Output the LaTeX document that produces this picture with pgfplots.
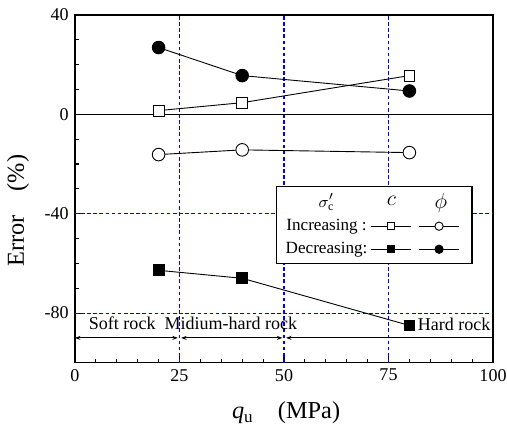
\documentclass[border=0pt]{standalone}
\usepackage{fontspec}
\setmainfont{Liberation Serif}
\usepackage{pgfplots}
\pgfplotsset{compat=1.18}
\usetikzlibrary{arrows.meta,calc}
\newdimen\px \px=0.555pt
\begin{document}
\begin{tikzpicture}
\begin{axis}[
  scale only axis, width=232pt, height=193pt,
  xmin=0, xmax=100, ymin=-100, ymax=40,
  xtick={0,25,50,75,100}, ytick={-80,-40,0,40},
  minor x tick num=4, minor y tick num=3,
  tick pos=left, tick align=inside,
  major tick length=3.9pt, minor tick length=2.2pt,
  axis line style={line width=0.7pt},
  tick style={draw=black, line width=0.6pt},
  tick label style={font=\fontsize{10}{12}\selectfont},
  /pgf/number format/assume math mode=true,
  xlabel={\textit{q}\textsubscript{u}\quad(MPa)},
  ylabel={Error\quad(\%)},
  label style={font=\fontsize{13.5}{15}\selectfont},
  xlabel style={at={(axis description cs:0.505,-0.144)}, anchor=center},
  ylabel style={at={(axis description cs:-0.136,0.437)}, anchor=center},
  legend columns=3,
  legend cell align=center,
  legend image code/.code={\draw[mark repeat=2,mark phase=2,#1] plot coordinates {(0pt,0pt) (11pt,0pt) (22pt,0pt)};},
  legend style={at={(rel axis cs:0.481,0.509)}, anchor=north west,
    draw=black, line width=0.7pt, fill=white,
    font=\fontsize{9.5}{11}\selectfont, row sep=1pt,
    inner xsep=3pt, inner ysep=2pt},
  guide/.style={color=blue, line width=0.6pt, dash pattern=on 2pt off 1.4pt, forget plot},
]
% dashed blue guide lines
\addplot[guide] coordinates {(25,-100) (25,40)};
\addplot[guide] coordinates {(50,-100) (50,40)};
\addplot[guide] coordinates {(75,-100) (75,40)};
\addplot[guide] coordinates {(0,-40) (100,-40)};
\addplot[guide] coordinates {(0,-80) (100,-80)};

\addplot[black, line width=0.6pt, forget plot] coordinates {(0,0) (100,0)};

% Increasing c
\addplot[black, line width=0.5pt, mark=square*, mark size=3pt, mark options={fill=white}, forget plot]
  coordinates {(20,1.5) (40,4.7) (80,15.6)};
% Increasing phi
\addplot[black, line width=0.5pt, mark=*, mark size=3.5pt, mark options={fill=white}, forget plot]
  coordinates {(20,-16.2) (40,-14.3) (80,-15.4)};
% Decreasing c
\addplot[black, line width=0.5pt, mark=square*, mark size=3pt, forget plot]
  coordinates {(20,-62.8) (40,-66) (80,-85)};
% Decreasing phi
\addplot[black, line width=0.5pt, mark=*, mark size=3.5pt, forget plot]
  coordinates {(20,26.9) (40,15.6) (80,9.4)};

\draw[line width=0.5pt, {Stealth[length=3pt,width=2.2pt]}-{Stealth[length=3pt,width=2.2pt]}] (axis cs:0,-90) -- (axis cs:24.6,-90);
\draw[line width=0.5pt, {Stealth[length=3pt,width=2.2pt]}-{Stealth[length=3pt,width=2.2pt]}] (axis cs:25.4,-90) -- (axis cs:49.6,-90);
\draw[line width=0.5pt, {Stealth[length=3pt,width=2.2pt]}-] (axis cs:50.5,-90) -- (axis cs:100,-90);
\node[font=\fontsize{10}{12}\selectfont] at (axis cs:11.3,-84) {Soft rock};
\node[font=\fontsize{10}{12}\selectfont] at (axis cs:37.3,-84) {Midium-hard rock};
\node[font=\fontsize{10}{12}\selectfont] at (axis cs:90.7,-84.7) {Hard rock};

\coordinate (sw) at (rel axis cs:0,0);
\coordinate (ne) at (rel axis cs:1,1);

\addlegendimage{empty legend}\addlegendentry{$\sigma'_{\mathrm{c}}$}
\addlegendimage{legend image code/.code={\node[inner sep=0pt,font=\fontsize{12}{12}\selectfont] at (11pt,0pt) {$c$};}}\addlegendentry{}
\addlegendimage{legend image code/.code={\node[inner sep=0pt,font=\fontsize{12}{12}\selectfont] at (12pt,0pt) {$\phi$};}}\addlegendentry{}
\addlegendimage{empty legend}\addlegendentry{Increasing :}
\addlegendimage{black, line width=0.5pt, mark=square*, mark size=2pt, mark options={fill=white}}\addlegendentry{}
\addlegendimage{black, line width=0.5pt, mark=*, mark size=2.3pt, mark options={fill=white}}\addlegendentry{}
\addlegendimage{empty legend}\addlegendentry{Decreasing:}
\addlegendimage{black, line width=0.5pt, mark=square*, mark size=2pt}\addlegendentry{}
\addlegendimage{black, line width=0.5pt, mark=*, mark size=2.3pt}\addlegendentry{}
\end{axis}
\pgfresetboundingbox
\path ($(sw)+(-75\px,-69\px)$) rectangle ($(ne)+(14\px,15\px)$);
\end{tikzpicture}
\end{document}
